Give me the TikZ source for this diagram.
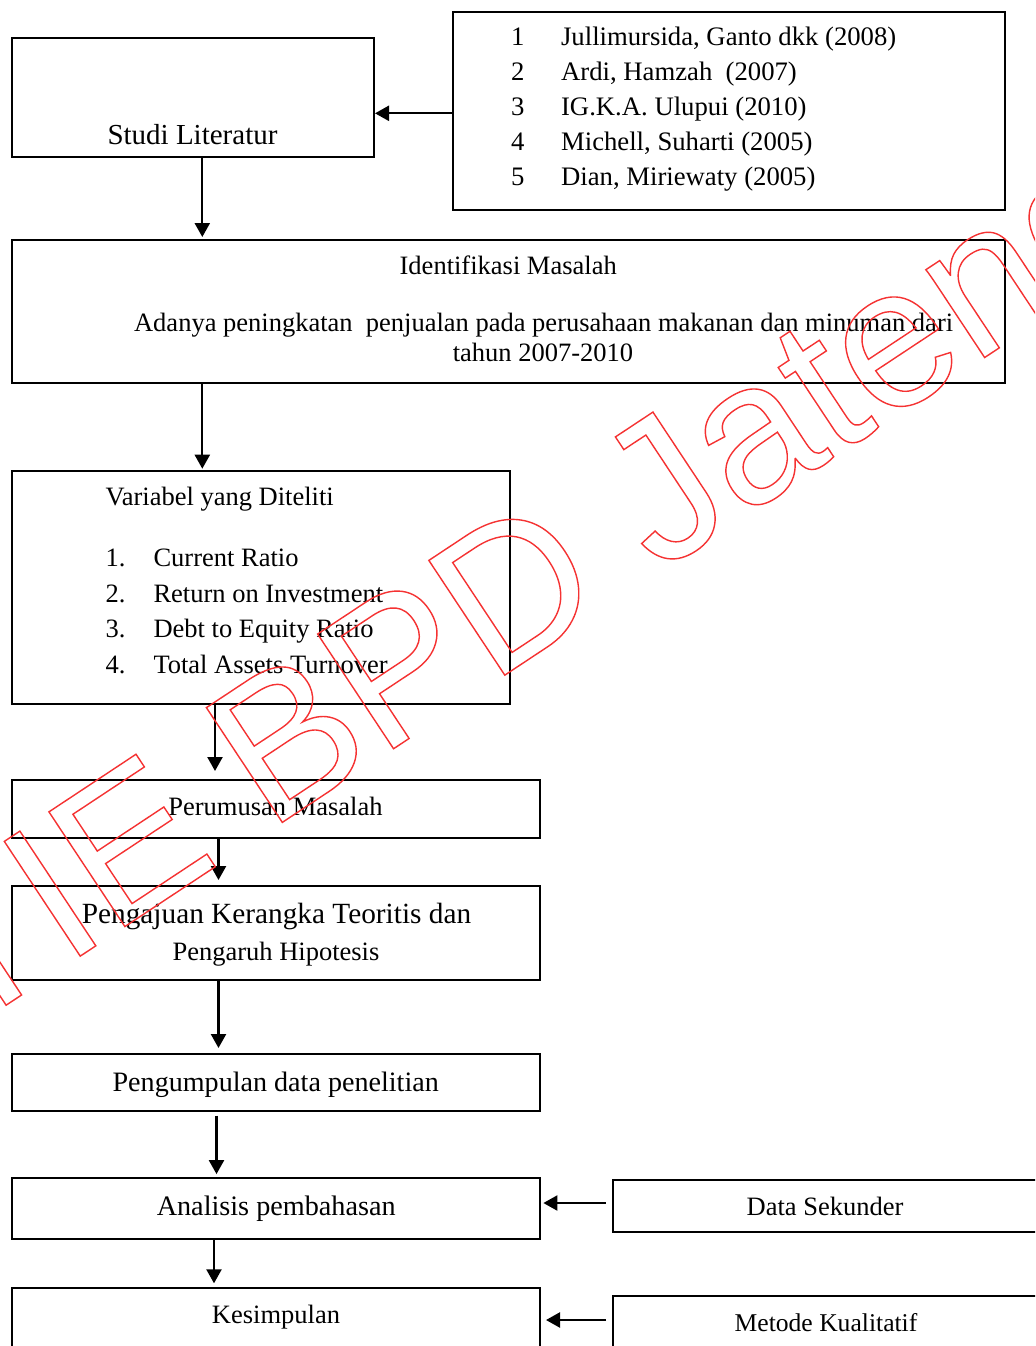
\documentclass[tikz,border=0pt]{standalone}
\usepackage{fontspec}
\setmainfont{Liberation Serif}
\newfontfamily\wmfont{Liberation Sans}
\usetikzlibrary{arrows.meta}
\definecolor{wmred}{RGB}{245,50,50}
% outlined (stroked, unfilled) text for the watermark
\newcommand{\outlinetext}[1]{\special{pdf:literal direct 1 Tr 0.7 w}#1\special{pdf:literal direct 0 Tr}}
\newcommand{\fs}[1]{\fontsize{#1}{#1}\selectfont}
\tikzset{
  box/.style={draw, line width=1pt, inner sep=0pt},
  txt/.style={inner sep=0pt, anchor=base, font=\fs{13.25}},
  ltxt/.style={txt, anchor=base west},
  flow/.style={draw, line width=1.15pt, -{Triangle[length=7pt,width=7.5pt]}},
}
\begin{document}
\begin{tikzpicture}[x=0.5pt,y=-0.5pt]
\useasboundingbox (0,0) rectangle (1035,1346);
\clip (0,0) rectangle (1035,1346);
\fill[white] (0,0) rectangle (1035,1346);

% ---------- boxes ----------
\node[box, minimum width=181.15pt, minimum height=59.5pt]  (studi)  at (192.85,97.2) {};
\node[box, minimum width=275.7pt,  minimum height=99.15pt] (refs)   at (729,110.85) {};
\node[box, minimum width=496.3pt,  minimum height=71.65pt] (ident)  at (508.3,311.65) {};
\node[box, minimum width=248.9pt,  minimum height=116.8pt] (var)    at (260.9,587.5) {};
\node[box, minimum width=264.2pt,  minimum height=29.15pt] (perum)  at (276.2,809.15) {};
\node[box, minimum width=264.2pt,  minimum height=47.15pt] (penga)  at (276.2,933.15) {};
\node[box, minimum width=264.2pt,  minimum height=28.35pt] (pengum) at (276.2,1082.35) {};
\node[box, minimum width=264.2pt,  minimum height=30.65pt] (anal)   at (276.2,1208.35) {};
\node[box, minimum width=264.2pt,  minimum height=29.1pt]  (kes)    at (276.2,1317.4) {};
\node[box, minimum width=216.25pt, minimum height=26pt]    (data)   at (828.75,1206.3) {};
\node[box, minimum width=216.25pt, minimum height=32pt]    (metode) at (828.75,1328) {};

% ---------- texts ----------
\node[txt, font=\fs{14.5}] (tstudi) at (192.5,144.3) {Studi Literatur};

\foreach \i/\t in {1/{Jullimursida, Ganto dkk (2008)},
                   2/{Ardi, Hamzah\ \ (2007)},
                   3/{IG.K.A. Ulupui (2010)},
                   4/{Michell, Suharti (2005)},
                   5/{Dian, Miriewaty (2005)}}{
  \node[txt, font=\fs{13.35}] (rn\i) at (517.8,{45.7+35*(\i-1)}) {\i};
  \node[ltxt, font=\fs{13.35}] (rt\i) at (560.7,{45.7+35*(\i-1)}) {\t};
}

\node[txt] (tident) at (508.2,274) {Identifikasi Masalah};
\node[txt] (tidentA) at (543.6,331.7) {Adanya peningkatan\ \ penjualan pada perusahaan makanan dan minuman dari};
\node[txt] (tidentB) at (543,361.7) {tahun 2007-2010};

\node[ltxt] (tvar) at (105.2,505) {Variabel yang Diteliti};
\foreach \i/\y/\t in {1/566.7/{Current Ratio},
                      2/602.7/{Return on Investment},
                      3/637.7/{Debt to Equity Ratio},
                      4/673.3/{Total Assets Turnover}}{
  \node[ltxt] (vn\i) at (105.2,\y) {\i.};
  \node[ltxt] (vt\i) at (153.1,\y) {\t};
}

\node[txt] (tperum) at (275.5,815) {Perumusan Masalah};
\node[txt, font=\fs{14.65}] (tpengaA) at (276.5,923.3) {Pengajuan Kerangka Teoritis dan};
\node[txt] (tpengaB) at (276,960) {Pengaruh Hipotesis};
\node[txt, font=\fs{14.05}] (tpengum) at (275.7,1091.7) {Pengumpulan data penelitian};
\node[txt, font=\fs{14.1}] (tanal) at (276.2,1215.7) {Analisis pembahasan};
\node[txt] (tdata) at (825,1215.7) {Data Sekunder};
\node[txt] (tkes) at (276,1323.3) {Kesimpulan};
\node[txt, font=\fs{12.8}] (tmetode) at (826,1331.7) {Metode Kualitatif};

% ---------- connectors ----------
\coordinate (y1) at (0,113.3);
\coordinate (x1) at (202.3,0);
\coordinate (x2) at (215,0);
\coordinate (x3) at (218.5,0);
\coordinate (x4) at (216.5,0);
\coordinate (x5) at (214,0);
\coordinate (y2) at (0,1203);
\coordinate (y3) at (0,1320);

\draw[flow] (refs.west |- y1) -- (studi.east |- y1);
\draw[flow, shorten >=1pt] (studi.south -| x1) -- (ident.north -| x1);
\draw[flow, shorten >=0.5pt] (ident.south -| x1) -- (var.north -| x1);
\draw[flow, shorten >=4pt] (var.south -| x2) -- (perum.north -| x2);
\draw[flow, shorten >=2.5pt] (perum.south -| x3) -- (penga.north -| x3);
\draw[flow, shorten >=2.5pt] (penga.south -| x3) -- (pengum.north -| x3);
\draw[flow, shorten <=2pt, shorten >=1.3pt] (pengum.south -| x4) -- (anal.north -| x4);
\draw[flow, shorten >=2pt] (anal.south -| x5) -- (kes.north -| x5);
\draw[flow, shorten <=3pt, shorten >=1pt] (data.west |- y2) -- (anal.east |- y2);
\draw[flow, shorten <=2.75pt, shorten >=2.3pt] (metode.west |- y3) -- (kes.east |- y3);

% ---------- watermark ----------
\node[inner sep=0pt, anchor=base west, rotate=33.5, text=wmred, font=\wmfont\fs{100}]
  (wm) at (-148.6,1107.6) {\outlinetext{STIE BPD Jateng}};
\end{tikzpicture}
\end{document}
